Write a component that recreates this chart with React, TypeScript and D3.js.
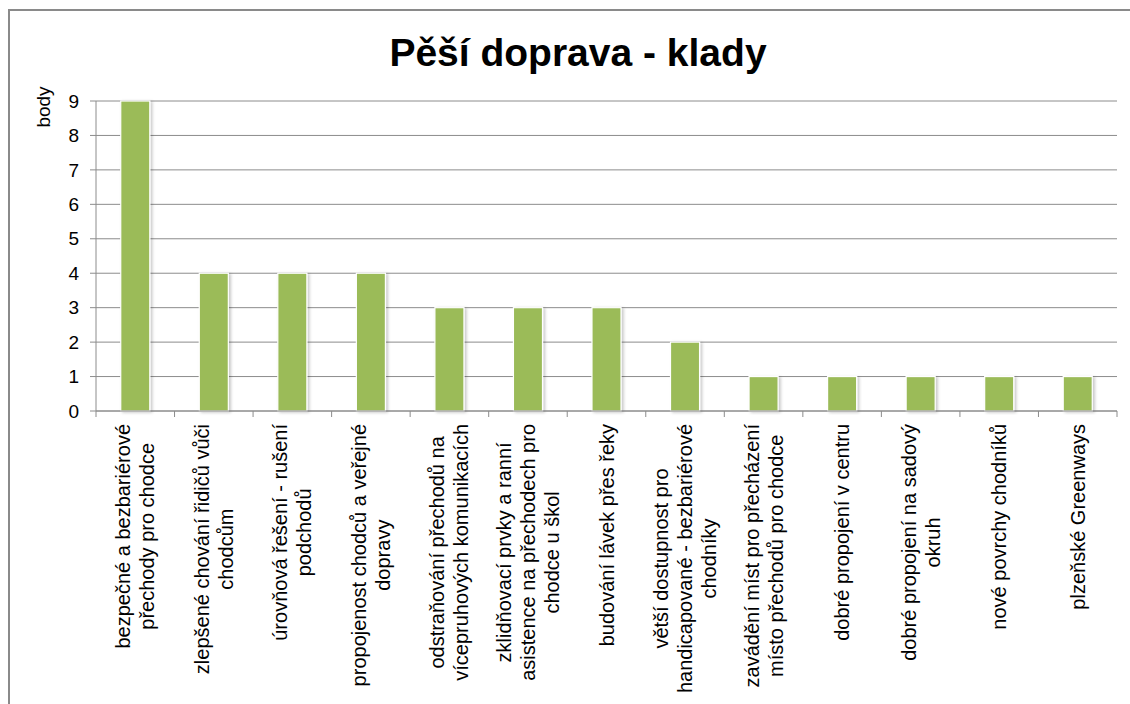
import React, { useMemo } from "react";
import { scaleBand, scaleLinear, range } from "d3";

const title = "Pěší doprava - klady";
const yTitle = "body";
const categories = [
  ["bezpečné a bezbariérové", "přechody pro chodce"],
  ["zlepšené chování řidičů vůči", "chodcům"],
  ["úrovňová řešení - rušení", "podchodů"],
  ["propojenost chodců a veřejné", "dopravy"],
  ["odstraňování  přechodů na", "vícepruhových komunikacích"],
  ["zklidňovací prvky a ranní", "asistence na přechodech pro", "chodce u škol"],
  ["budování lávek přes řeky"],
  ["větší dostupnost pro", "handicapované - bezbariérové", "chodníky"],
  ["zavádění míst pro přecházení", "místo přechodů pro chodce"],
  ["dobré propojení v centru"],
  ["dobré propojení na sadový", "okruh"],
  ["nové povrchy chodníků"],
  ["plzeňské Greenways"]
];
const values = [9, 4, 4, 4, 3, 3, 3, 2, 1, 1, 1, 1, 1];
const yTicks = range(0, 10);

const W = 1130;
const H = 704;
const left = 96;
const right = 1117;
const top = 101;
const bottom = 411;
const FONT = "'Liberation Sans', Arial, sans-serif";
const gridColor = "#8c8c8c";
const labelSize = 20;

const App = () => {
  const x = scaleBand<number>()
    .domain(categories.map((d, i) => i))
    .range([left, right])
    .padding(0);
  const y = scaleLinear().domain([0, 9]).range([bottom, top]);
  const barW = x.bandwidth() * 0.37;

  // measure label widths so that the longest line ends at the same spot
  const widths = useMemo(() => {
    const ctx = document.createElement("canvas").getContext("2d");
    if (!ctx) return categories.map(() => 200);
    ctx.font = `${labelSize}px 'Liberation Sans'`;
    return categories.map(lines => Math.max(...lines.map(l => ctx.measureText(l).width)));
  }, []);

  return (
    <svg
      width={W}
      height={H}
      style={{ position: "absolute", left: 0, top: 0, background: "#fff" }}
      fontFamily={FONT}
    >
      <defs>
        <filter id="shadow" x="-30%" y="-10%" width="160%" height="120%">
          <feDropShadow dx="2" dy="1" stdDeviation="1.5" floodColor="#000" floodOpacity="0.22" />
        </filter>
      </defs>
      {/* chart frame */}
      <rect x={9} y={10} width={1200} height={800} fill="#fff" stroke="#8a8a8a" strokeWidth={2} />

      <text x={578} y={66} textAnchor="middle" fontSize={39} fontWeight="bold" fill="#000">
        {title}
      </text>

      {/* gridlines */}
      {yTicks.map(t => (
        <line key={t} x1={left - 6} x2={right} y1={y(t)} y2={y(t)} stroke={gridColor} strokeWidth={1} />
      ))}
      {yTicks.map(t => (
        <text key={"l" + t} x={79} y={y(t)} dy="0.35em" textAnchor="end" fontSize={19} fill="#000">
          {t}
        </text>
      ))}
      <line x1={left} x2={left} y1={top} y2={bottom} stroke={gridColor} />
      <text transform={`translate(50, 107) rotate(-90)`} textAnchor="middle" fontSize={19} fill="#000">
        {yTitle}
      </text>

      {/* bars */}
      {values.map((v, i) => (
        <rect
          key={i}
          x={(x(i) as number) + (x.bandwidth() - barW) / 2}
          y={y(v)}
          width={barW}
          height={bottom - y(v)}
          fill="#9bbb59"
          stroke="#fff"
          strokeWidth={1.2}
          filter="url(#shadow)"
        />
      ))}

      {/* x axis */}
      <line x1={left} x2={right} y1={bottom} y2={bottom} stroke={gridColor} />
      {range(categories.length + 1).map(i => {
        const tx = left + i * x.step();
        return <line key={i} x1={tx} x2={tx} y1={bottom} y2={bottom + 6} stroke={gridColor} />;
      })}
      {categories.map((lines, i) => {
        const cx = (x(i) as number) + x.bandwidth() / 2;
        const n = lines.length;
        return (
          <g key={i} transform={`translate(${cx}, 424) rotate(-90)`}>
            {lines.map((l, j) => (
              <text
                key={j}
                x={-widths[i] / 2}
                y={(j - (n - 1) / 2) * 24}
                dy="0.35em"
                textAnchor="middle"
                fontSize={labelSize}
                fill="#000"
              >
                {l}
              </text>
            ))}
          </g>
        );
      })}
    </svg>
  );
};

export default App;
